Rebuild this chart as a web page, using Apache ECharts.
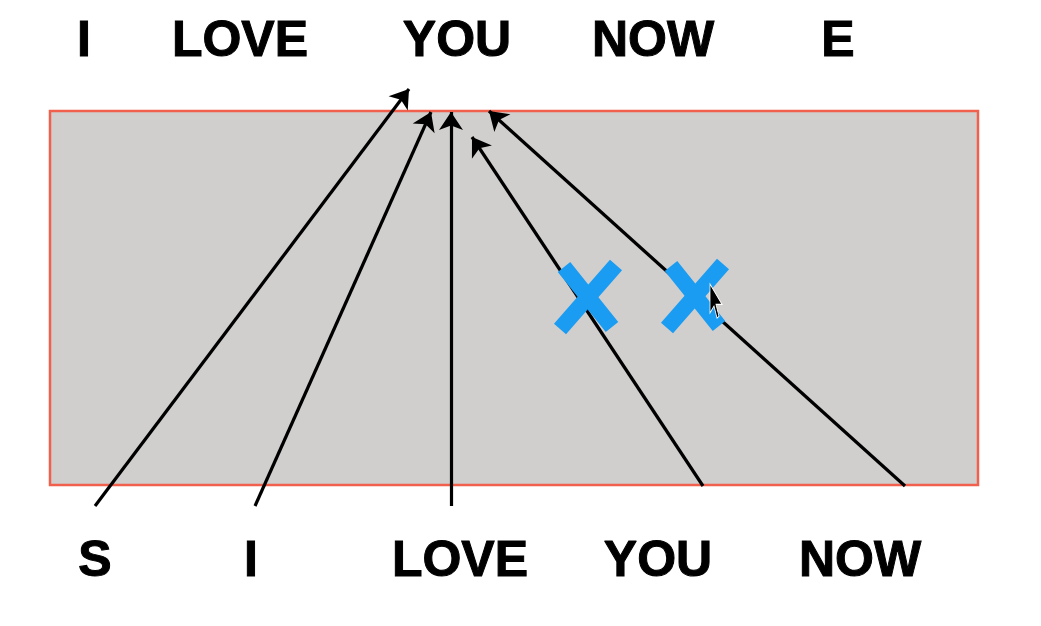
<!DOCTYPE html>
<html>
<head>
<meta charset="utf-8">
<script src="https://cdn.jsdelivr.net/npm/echarts@6/dist/echarts.min.js"></script>
<style>html,body{margin:0;padding:0;background:#fff;}#c{width:1041px;height:626px;}</style>
</head>
<body>
<div id="c"></div>
<script>
// Words
const topWords = ['I', 'LOVE', 'YOU', 'NOW', 'E'];
const topX = [84, 240, 457, 653, 838];
const topY = 42;
const bottomWords = ['S', 'I', 'LOVE', 'YOU', 'NOW'];
const bottomX = [95, 251, 460, 658, 860];
const bottomY = 562;
// Arrows (from bottom words toward "YOU")
const arrowFrom = [[95, 506], [255, 506], [451, 506], [703, 486], [905, 486]];
const arrowTo = [[409, 89], [431, 112], [451, 112], [472, 137], [489, 111]];
// Box
const boxCorners = [[50, 111], [978, 485]];
// Blue crosses (centers and half-extents)
const crossCenters = [[588, 297], [695, 296]];
const crossHalf = [28, 32];
// Mouse cursor
const cursorPos = [[716, 301]];

const chart = echarts.init(document.getElementById('c'));

const wordData = topWords.map((w, i) => ({ name: w, value: [topX[i], topY] }))
  .concat(bottomWords.map((w, i) => ({ name: w, value: [bottomX[i], bottomY] })));

const arrowData = arrowFrom.map((f, i) => ({ coords: [f, arrowTo[i]] }));

const crossData = [];
crossCenters.forEach(c => {
  crossData.push({ coords: [[c[0] + crossHalf[0], c[1] - crossHalf[1]], [c[0] - crossHalf[0], c[1] + crossHalf[1]]] });
  crossData.push({ coords: [[c[0] - crossHalf[0] + 4, c[1] - crossHalf[1] + 2], [c[0] + crossHalf[0] - 4, c[1] + crossHalf[1] - 2]] });
});

const option = {
  backgroundColor: '#ffffff',
  animation: false,
  grid: { left: 0, right: 0, top: 0, bottom: 0 },
  xAxis: { type: 'value', min: 0, max: 1041, show: false },
  yAxis: { type: 'value', min: 0, max: 626, inverse: true, show: false },
  series: [
    {
      type: 'scatter',
      z: 1,
      data: [],
      markArea: {
        silent: true,
        itemStyle: { color: '#d1cfce', borderColor: '#f0604c', borderWidth: 2.5, opacity: 1 },
        data: [[{ coord: boxCorners[0] }, { coord: boxCorners[1] }]]
      }
    },
    {
      type: 'lines',
      coordinateSystem: 'cartesian2d',
      z: 3,
      symbol: ['none', 'arrow'],
      symbolSize: [12, 18],
      lineStyle: { color: '#000000', width: 3.2, opacity: 1 },
      data: arrowData
    },
    {
      type: 'lines',
      coordinateSystem: 'cartesian2d',
      z: 4,
      symbol: ['none', 'none'],
      lineStyle: { color: '#1a9cf2', width: 16, opacity: 1, cap: 'butt' },
      data: crossData
    },
    {
      type: 'scatter',
      z: 5,
      symbol: 'path://M0,0 L0,17 L4,13 L7,20 L9,19 L6,12 L12,12 Z',
      symbolSize: [20, 34],
      symbolKeepAspect: true,
      itemStyle: { color: '#000000', borderColor: '#ffffff', borderWidth: 1, opacity: 1 },
      data: cursorPos
    },
    {
      type: 'scatter',
      z: 6,
      symbolSize: 1,
      itemStyle: { color: 'rgba(0,0,0,0)', opacity: 1 },
      label: {
        show: true,
        position: 'inside',
        formatter: p => p.name,
        color: '#000000',
        opacity: 1,
        textBorderColor: '#000000',
        textBorderWidth: 1,
        fontFamily: 'Liberation Sans, Arial, sans-serif',
        fontWeight: 'bold',
        fontSize: 50
      },
      data: wordData
    }
  ]
};
chart.setOption(option);
</script>
</body>
</html>
